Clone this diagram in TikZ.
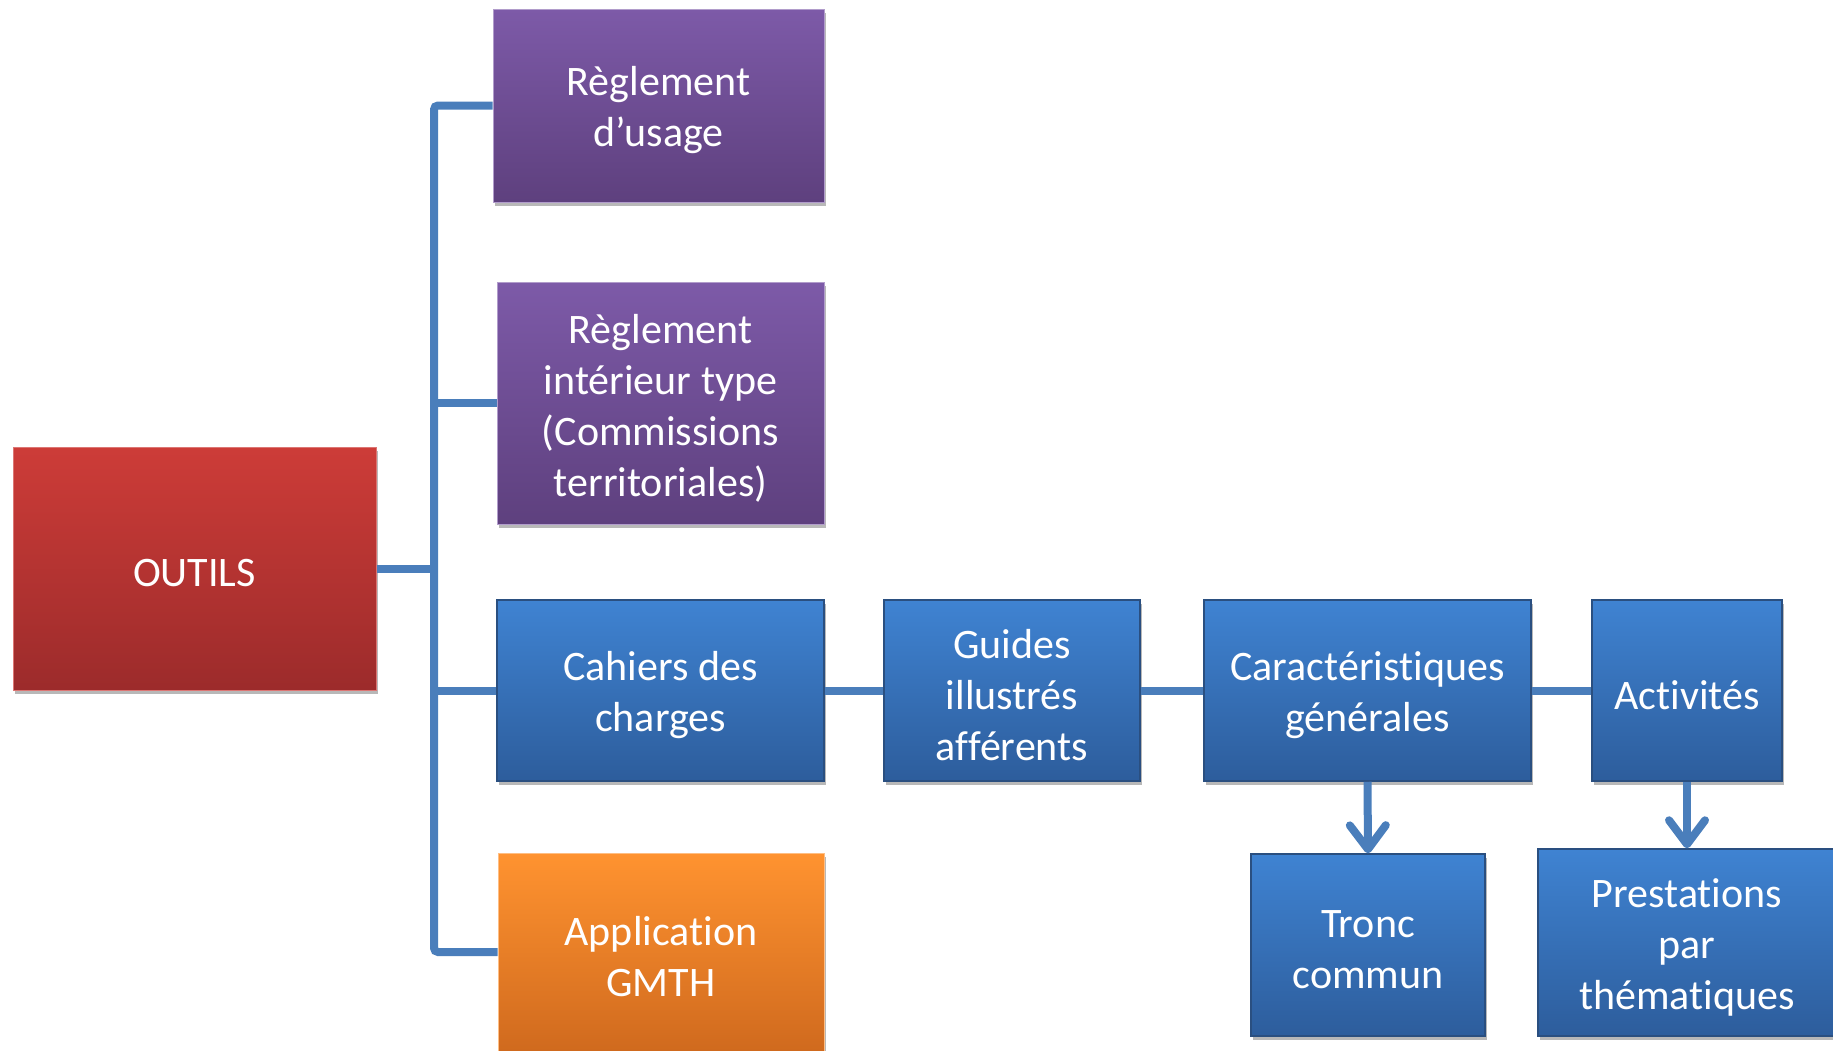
\documentclass[tikz,border=0pt]{standalone}
\usepackage{fontspec}
\setmainfont[Ligatures={NoCommon}]{Carlito}
\usetikzlibrary{shadows,arrows.meta}
\definecolor{conncol}{HTML}{4A7EBB}
\definecolor{redT}{HTML}{CD3C38}
\definecolor{redB}{HTML}{9C2B2B}
\definecolor{purT}{HTML}{7D5AA8}
\definecolor{purB}{HTML}{5E407E}
\definecolor{bluT}{HTML}{3F83D2}
\definecolor{bluB}{HTML}{2D5D9C}
\definecolor{bluE}{HTML}{2A4F80}
\definecolor{oraT}{HTML}{FF9330}
\definecolor{oraB}{HTML}{D06A1E}
\tikzset{
  lbl/.style={text=white, align=center, inner sep=0pt, yshift=-5pt,
    font=\fontsize{42}{51}\selectfont},
  txt/.style={label={[lbl]center:{#1}}},
  box/.style={rectangle, inner sep=0pt,
    drop shadow={shadow xshift=2pt, shadow yshift=-4pt, opacity=0.28, fill=black}},
  redbox/.style={box, top color=redT, bottom color=redB, draw=redT!70!white, line width=1pt},
  purbox/.style={box, top color=purT, bottom color=purB, draw=purT!60!white, line width=1pt},
  blubox/.style={box, top color=bluT, bottom color=bluB, draw=bluE, line width=1.5pt},
  orabox/.style={box, top color=oraT, bottom color=oraB, draw=oraT!60!white, line width=1pt},
  conn/.style={draw=conncol, line width=8pt},
  arr/.style={conn, -{Straight Barb[length=24pt,width=36pt,line cap=round,round]}}
}
\begin{document}
\begin{tikzpicture}[x=1pt,y=-1pt]
\useasboundingbox (0,0) rectangle (1833,1050);
\node[redbox, minimum width=363pt, minimum height=243pt, txt={OUTILS}] (outils) at (194.5,568.5) {};
\node[purbox, minimum width=331pt, minimum height=193pt, txt={Règlement\\d’usage}] (r1) at (658.5,105.5) {};
\node[purbox, minimum width=327pt, minimum height=242pt, txt={Règlement\\intérieur type\\(Commissions\\territoriales)}] (r2) at (660.5,403) {};
\node[blubox, minimum width=327pt, minimum height=181pt, txt={Cahiers des\\charges}] (cah) at (660.5,690.5) {};
\node[orabox, minimum width=326pt, minimum height=198pt, txt={Application\\GMTH}] (app) at (661,952) {};
\node[blubox, minimum width=256pt, minimum height=181pt, txt={Guides\\illustrés\\afférents}] (gui) at (1012,690.5) {};
\node[blubox, minimum width=327pt, minimum height=181pt, txt={Caractéristiques\\générales}] (car) at (1367.5,690.5) {};
\node[blubox, minimum width=190pt, minimum height=181pt, txt={Activités}] (act) at (1687,690.5) {};
\node[blubox, minimum width=234pt, minimum height=182pt, txt={Tronc\\commun}] (tro) at (1368,945) {};
\node[blubox, minimum width=298pt, minimum height=187pt, txt={Prestations\\par\\thématiques}] (pre) at (1687,942.5) {};
\coordinate (bar) at (434,0);
\draw[conn, rounded corners=4pt] (r1.west) -- (r1.west -| bar) -- (app.west -| bar) -- (app.west);
\draw[conn] (r2.west) -- (r2.west -| bar);
\draw[conn] (cah.west) -- (cah.west -| bar);
\draw[conn] (outils.east) -- (outils.east -| bar);
\draw[conn] (cah.east) -- (gui.west);
\draw[conn] (gui.east) -- (car.west);
\draw[conn] (car.east) -- (act.west);
\draw[arr] (car.south) -- (tro.north);
\draw[arr] (act.south) -- (pre.north);
\end{tikzpicture}
\end{document}
